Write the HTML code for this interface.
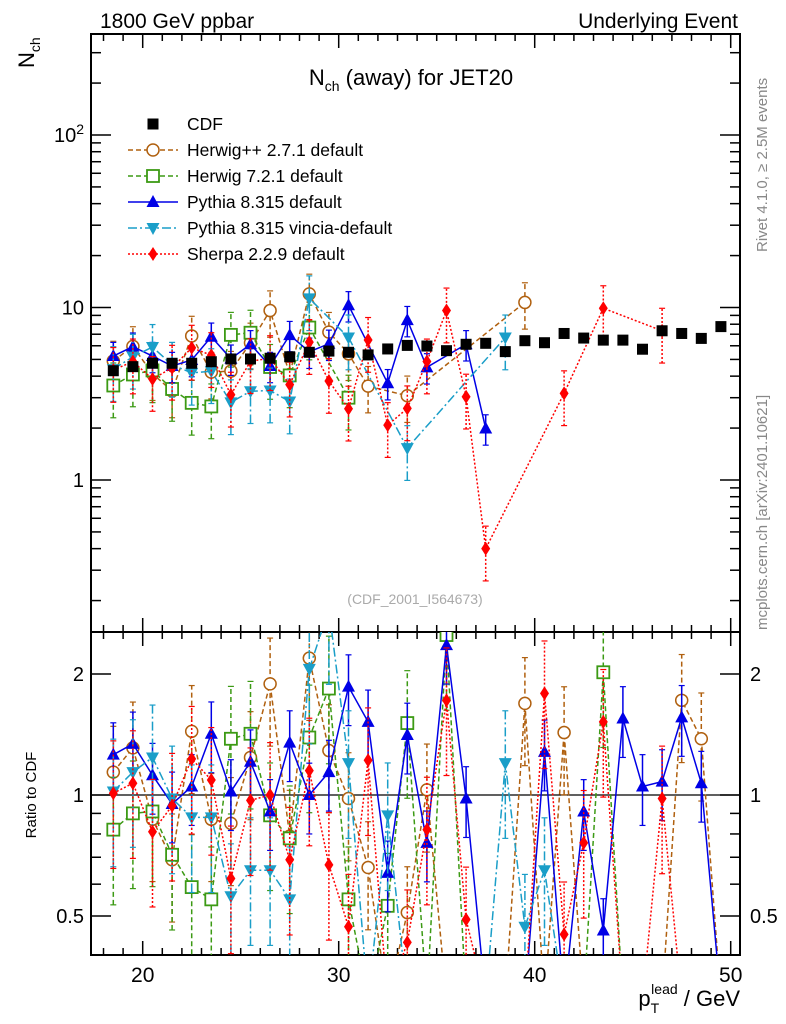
<!DOCTYPE html>
<html><head><meta charset="utf-8"><style>
html,body{margin:0;padding:0;background:#fff;}
svg{display:block;font-family:"Liberation Sans",sans-serif;}
</style></head><body>
<svg id="chart" width="786" height="1024" viewBox="0 0 786 1024" xmlns="http://www.w3.org/2000/svg">
<defs>
<clipPath id="clipMain"><rect x="91" y="34" width="649" height="598"/></clipPath>
<clipPath id="clipRatio"><rect x="91" y="632" width="649" height="323"/></clipPath>
</defs>
<text x="100" y="28" font-size="21">1800 GeV ppbar</text>
<text x="738" y="28" font-size="21" text-anchor="end">Underlying Event</text>
<text transform="translate(34,68) rotate(-90)" font-size="22">N<tspan font-size="14" dy="6">ch</tspan></text>
<text x="411" y="85" font-size="22" text-anchor="middle">N<tspan font-size="14" dy="6">ch</tspan><tspan dy="-6"> (away) for JET20</tspan></text>
<text transform="translate(767,252) rotate(-90)" font-size="15" fill="#888">Rivet 4.1.0, ≥ 2.5M events</text>
<text transform="translate(767,630) rotate(-90)" font-size="15" fill="#888">mcplots.cern.ch [arXiv:2401.10621]</text>
<text x="415" y="604" font-size="14" fill="#aaa" text-anchor="middle">(CDF_2001_I564673)</text>
<text transform="translate(36,795) rotate(-90)" font-size="15" text-anchor="middle">Ratio to CDF</text>
<text x="740" y="1006" font-size="22" text-anchor="end">p<tspan font-size="14" dy="7">T</tspan><tspan font-size="14" dx="-8" dy="-19">lead</tspan><tspan dy="12"> / GeV</tspan></text>
<g id="axes"></g>
<g id="mainMarks" clip-path="url(#clipMain)"></g>
<g id="ratioMarks" clip-path="url(#clipRatio)"></g>
<g id="legend"></g>
</svg>
<script>
const xCenters=[18.5,19.5,20.5,21.5,22.5,23.5,24.5,25.5,26.5,27.5,28.5,29.5,30.5,31.5,32.5,33.5,34.5,35.5,36.5,37.5,38.5,39.5,40.5,41.5,42.5,43.5,44.5,45.5,46.5,47.5,48.5,49.5];
const cdfVals=[4.30,4.54,4.75,4.75,4.75,4.85,5.03,5.03,5.08,5.18,5.50,5.59,5.50,5.31,5.75,6.03,5.98,5.62,6.12,6.2,5.55,6.42,6.25,7.07,6.65,6.47,6.47,5.73,7.33,7.07,6.62,7.75];
const hppVals=[4.9,5.95,4.13,3.28,6.84,4.22,4.28,6.24,9.6,4.09,12.0,7.2,5.39,3.5,null,3.08,null,null,null,null,null,10.7,null,null,null,null,null,null,null,null,null,null];
const h7Vals=[3.53,4.09,4.32,3.37,2.8,2.67,6.94,7.14,4.52,4.04,7.65,null,3.0,null,null,null,null,null,null,null,null,null,null,null,null,null,null,null,null,null,null,null];
const pyVals=[5.23,5.93,5.23,4.58,4.96,6.77,5.05,6.12,4.58,6.92,5.54,6.16,10.3,null,3.64,8.45,4.5,null,6.12,1.99,null,null,null,null,null,null,null,null,null,null,null,null];
const vinVals=[4.39,5.18,5.9,4.65,4.18,4.27,2.82,3.27,3.3,2.85,11.3,null,6.7,null,null,1.53,null,null,null,null,6.7,null,null,null,null,null,null,null,null,null,null,null];
const shVals=[4.34,4.86,3.85,4.47,5.84,5.29,3.12,4.88,5.08,3.57,6.3,3.75,2.59,6.48,2.08,2.6,4.86,9.6,3.04,0.40,null,null,null,3.18,null,9.9,null,null,7.33,null,null,null];
const hppRatio=[1.14,1.31,0.87,0.69,1.44,0.87,0.85,1.24,1.89,0.79,2.19,1.29,0.98,0.66,0,0.51,1.03,0,0,0,0,1.69,0,1.43,0,0,0,0,0,1.72,1.38,0];
const h7Ratio=[0.82,0.90,0.91,0.71,0.59,0.55,1.38,1.42,0.89,0.78,1.39,1.84,0.55,0,0.53,1.51,0,2.5,0,0,0,0,0,0,0,2.02,0,0,0,0,0,0];
const pyRatio=[1.26,1.34,1.12,0.95,1.05,1.42,1.02,1.21,0.91,1.35,1.0,1.14,1.86,1.52,0.64,1.41,0.76,2.36,0.98,0,0,0,1.28,0,0.91,0.46,1.55,1.05,1.08,1.56,1.07,0];
const vinRatio=[1.02,1.14,1.24,0.98,0.88,0.88,0.56,0.65,0.65,0.55,2.06,2.9,1.2,0,0.89,0,0,0,0,0,1.2,0.47,0.65,0,0,0,0,0,0,0,0,0];
const shRatio=[1.01,1.07,0.81,0.94,1.23,1.09,0.62,0.97,1.0,0.69,1.15,0.67,0.47,1.22,0,0.43,0.82,1.72,0.49,0,0,0,1.79,0.45,0.76,1.52,0,0,0.98,0,0,0];
const xTicks=[20,30,40,50];
const mainTickLabels=["1","10","10²"];
const ratioTickVals=[0.5,1,2];
const ratioTickLabels=["0.5","1","2"];
const legendLabels=["CDF","Herwig++ 2.7.1 default","Herwig 7.2.1 default","Pythia 8.315 default","Pythia 8.315 vincia-default","Sherpa 2.2.9 default"];

const NS="http://www.w3.org/2000/svg";
const X0=91,X1=740,YT=34,YM=632,YB=955;
function xs(v){return 142.7+(v-20)*19.6;}
function ym(v){return 480-172.5*Math.log10(v);}
function yr(v){return v<=0?1000:795-121*Math.log2(v);}
function mk(tag,attrs,parent){const e=document.createElementNS(NS,tag);for(const k in attrs)e.setAttribute(k,attrs[k]);parent.appendChild(e);return e;}
const axes=document.getElementById('axes');

let f1=mk('rect',{x:X0,y:YT,width:X1-X0,height:YM-YT,fill:'none',stroke:'#000','stroke-width':2},axes);


let f2=mk('rect',{x:X0,y:YM,width:X1-X0,height:YB-YM,fill:'none',stroke:'#000','stroke-width':2},axes);



for(let v=18;v<=50;v++){
  const x=xs(v);const major=(v%10===0);const L=major?14:7;
  for(const [yb,yt] of [[YM,YT],[YB,YM]]){
    mk('line',{x1:x,y1:yb,x2:x,y2:yb-L,stroke:'#000','stroke-width':1.5},axes);
    mk('line',{x1:x,y1:yt,x2:x,y2:yt+L,stroke:'#000','stroke-width':1.5},axes);
  }
}
xTicks.forEach(v=>{
  const t=mk('text',{x:xs(v),y:982,'font-size':21,'text-anchor':'middle'},axes);
  t.textContent=String(v);
  
  
});
for(let d=-1;d<=2;d++){
  for(let m=1;m<=9;m++){
    const v=m*Math.pow(10,d);const y=ym(v);if(y<YT||y>YM)continue;
    const L=m===1?20:10;
    mk('line',{x1:X0,y1:y,x2:X0+L,y2:y,stroke:'#000','stroke-width':1.5},axes);
    mk('line',{x1:X1,y1:y,x2:X1-L,y2:y,stroke:'#000','stroke-width':1.5},axes);
  }
}
[1,10,100].forEach((v,i)=>{
  const t=mk('text',{x:84,y:ym(v)+7,'font-size':20,'text-anchor':'end'},axes);
  if(v===100){t.innerHTML='10<tspan font-size="14" dy="-8">2</tspan>';}else t.textContent=mainTickLabels[i];
  
  
});
[0.4,0.5,0.6,0.7,0.8,0.9,1,2].forEach(v=>{
  const y=yr(v);const L=(v===0.5||v===1||v===2)?20:10;
  mk('line',{x1:X0,y1:y,x2:X0+L,y2:y,stroke:'#000','stroke-width':1.5},axes);
  mk('line',{x1:X1,y1:y,x2:X1-L,y2:y,stroke:'#000','stroke-width':1.5},axes);
});
ratioTickVals.forEach((v,i)=>{
  const t=mk('text',{x:84,y:yr(v)+7,'font-size':20,'text-anchor':'end'},axes);
  t.textContent=ratioTickLabels[i];
  
  
  const t2=mk('text',{x:750,y:yr(v)+7,'font-size':20},axes);
  t2.textContent=ratioTickLabels[i];
  
  
});
const ref=mk('line',{x1:X0,y1:yr(1),x2:X1,y2:yr(1),stroke:'#000','stroke-width':1.3},document.getElementById('ratioMarks'));



function marker(type,color,x,y,parent){
  let e;
  if(type==='sq')e=mk('rect',{x:x-5.5,y:y-5.5,width:11,height:11,fill:'#000'},parent);
  else if(type==='circ')e=mk('circle',{cx:x,cy:y,r:6,fill:'#fff',stroke:color,'stroke-width':1.5},parent);
  else if(type==='osq')e=mk('rect',{x:x-6,y:y-6,width:12,height:12,fill:'#fff',stroke:color,'stroke-width':1.8},parent);
  else if(type==='tri')e=mk('polygon',{points:`${x},${y-7} ${x-6.5},${y+5} ${x+6.5},${y+5}`,fill:color},parent);
  else if(type==='dtri')e=mk('polygon',{points:`${x},${y+7} ${x-6.5},${y-5} ${x+6.5},${y-5}`,fill:color},parent);
  else if(type==='dia')e=mk('polygon',{points:`${x},${y-7} ${x-4.5},${y} ${x},${y+7} ${x+4.5},${y}`,fill:color},parent);
  return e;
}
const series=[
 {name:'herwigpp',color:'#b0600f',dash:'5,3',m:'circ',main:hppVals,ratio:hppRatio,err:0.3},
 {name:'herwig7',color:'#3c9a14',dash:'5,3',m:'osq',main:h7Vals,ratio:h7Ratio,err:0.35},
 {name:'pythia',color:'#0000e6',dash:'',m:'tri',main:pyVals,ratio:pyRatio,err:0.2},
 {name:'vincia',color:'#1a9ec8',dash:'9,3,2,3',m:'dtri',main:vinVals,ratio:vinRatio,err:0.35},
 {name:'sherpa',color:'#ff0000',dash:'2,2',m:'dia',main:shVals,ratio:shRatio,err:0.35}
];
const mainG=document.getElementById('mainMarks');
const ratioG=document.getElementById('ratioMarks');
function drawSeries(s,vals,yf,parent,zeroLine){
  const g=mk('g',{},parent);
  
  
  const pts=[];
  vals.forEach((v,i)=>{if(v===null)return;if(v<=0&&!zeroLine)return;pts.push([xs(xCenters[i]),yf(v),v]);});
  const pl=mk('polyline',{points:pts.map(p=>p[0]+','+p[1]).join(' '),fill:'none',stroke:s.color,'stroke-width':1.5,'stroke-dasharray':s.dash},g);
  
  
  pts.forEach(p=>{
    if(p[2]<=0)return;
    const lo=yf(p[2]*(1-s.err)),hi=yf(p[2]*(1+s.err));
    mk('line',{x1:p[0],y1:lo,x2:p[0],y2:hi,stroke:s.color,'stroke-width':1.5,'stroke-dasharray':s.dash},g);
    mk('line',{x1:p[0]-3,y1:lo,x2:p[0]+3,y2:lo,stroke:s.color,'stroke-width':1.2},g);
    mk('line',{x1:p[0]-3,y1:hi,x2:p[0]+3,y2:hi,stroke:s.color,'stroke-width':1.2},g);
    const e=marker(s.m,s.color,p[0],p[1],g);
    
    
  });
}
series.forEach(s=>{drawSeries(s,s.main,ym,mainG,false);drawSeries(s,s.ratio,yr,ratioG,true);});
const cdfG=mk('g',{},mainG);


cdfVals.forEach((v,i)=>{
  const e=marker('sq','#000',xs(xCenters[i]),ym(v),cdfG);
  
  
});
const lg=document.getElementById('legend');
const legStyles=[{m:'sq',color:'#000',dash:null}].concat(series.map(s=>({m:s.m,color:s.color,dash:s.dash})));
legendLabels.forEach((lab,i)=>{
  const y=124+i*26;
  const g=mk('g',{},lg);
  
  
  if(legStyles[i].dash!==null)mk('line',{x1:128,y1:y,x2:178,y2:y,stroke:legStyles[i].color,'stroke-width':1.5,'stroke-dasharray':legStyles[i].dash},g);
  marker(legStyles[i].m,legStyles[i].color,153,y,g);
  const t=mk('text',{x:187,y:y+6,'font-size':17.5},g);
  t.textContent=lab;
});
</script>
</body></html>
